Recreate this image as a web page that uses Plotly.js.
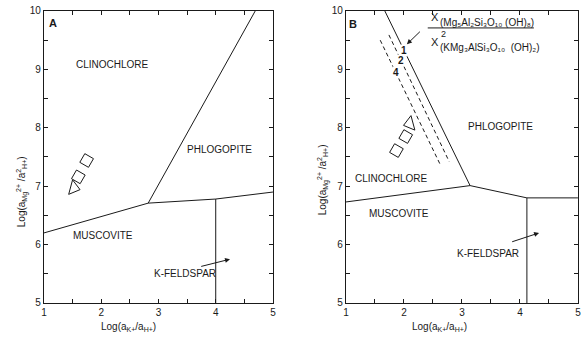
<!DOCTYPE html>
<html>
<head>
<meta charset="utf-8">
<script src="https://cdn.plot.ly/plotly-3.0.1.min.js"></script>
<style>html,body{margin:0;padding:0;background:#fff;}#chart{width:582px;height:337px;}</style>
</head>
<body>
<div id="chart"></div>
<script>
// ---------- Panel A boundaries ----------
const aMuscClinoX = [1, 2.82];
const aMuscClinoY = [6.2, 6.71];
const aClinoPhlogX = [2.82, 4.69];
const aClinoPhlogY = [6.71, 10];
const aPhlogMuscX = [2.82, 4, 5];
const aPhlogMuscY = [6.71, 6.78, 6.9];
const aKfsX = [4, 4];
const aKfsY = [6.78, 5];
// Panel A samples
const aSquareX = [1.745, 1.60];
const aSquareY = [7.44, 7.16];
const aTriX = [1.52];
const aTriY = [6.97];

// ---------- Panel B boundaries ----------
const bMuscClinoX = [1, 3.14];
const bMuscClinoY = [6.73, 7.01];
const bClinoPhlogX = [3.14, 1.67];
const bClinoPhlogY = [7.01, 10];
const bPhlogMuscX = [3.14, 4.12, 5];
const bPhlogMuscY = [7.01, 6.8, 6.8];
const bKfsX = [4.12, 4.12];
const bKfsY = [6.8, 5];
const bDash2X = [1.74, 2.78];
const bDash2Y = [9.59, 7.42];
const bDash4X = [1.59, 2.63];
const bDash4Y = [9.50, 7.36];
// Panel B samples
const bSquareX = [2.03, 1.87];
const bSquareY = [7.85, 7.61];
const bTriX = [2.10];
const bTriY = [8.07];

// ---------- Labels ----------
const aLabels = ["CLINOCHLORE", "PHLOGOPITE", "MUSCOVITE", "K-FELDSPAR"];
const aLabelX = [2.19, 4.07, 2.03, 3.46];
const aLabelY = [9.09, 7.63, 6.16, 5.5];
const bLabels = ["CLINOCHLORE", "PHLOGOPITE", "MUSCOVITE", "K-FELDSPAR"];
const bLabelX = [1.78, 3.67, 1.91, 3.45];
const bLabelY = [7.14, 8.03, 6.54, 5.85];
const ratioLabels = ["1", "2", "4"];
const ratioX = [2.0, 1.95, 1.87];
const ratioY = [9.32, 9.15, 8.94];
const xTickVals = [1, 1.5, 2, 2.5, 3, 3.5, 4, 4.5, 5];
const xTickText = ['1', '', '2', '', '3', '', '4', '', '5'];
const yTickVals = [5, 5.5, 6, 6.5, 7, 7.5, 8, 8.5, 9, 9.5, 10];
const yTickText = ['5', '', '6', '', '7', '', '8', '', '9', '', '10'];

const black = '#1a1a1a';
function line(x, y, xa, ya, dash) {
  return {x: x, y: y, xaxis: xa, yaxis: ya, mode: 'lines', type: 'scatter',
    line: {color: black, width: 1, dash: dash || 'solid'}, hoverinfo: 'skip', showlegend: false};
}
function pts(x, y, xa, ya, sym, ang, size) {
  return {x: x, y: y, xaxis: xa, yaxis: ya, mode: 'markers', type: 'scatter', showlegend: false,
    marker: {symbol: sym, size: size, angle: ang, color: black,
      line: {color: black, width: 1}}};
}

const data = [
  line(aMuscClinoX, aMuscClinoY, 'x', 'y'),
  line(aClinoPhlogX, aClinoPhlogY, 'x', 'y'),
  line(aPhlogMuscX, aPhlogMuscY, 'x', 'y'),
  line(aKfsX, aKfsY, 'x', 'y'),
  pts(aSquareX, aSquareY, 'x', 'y', 'square-open', 30, 10),
  pts(aTriX, aTriY, 'x', 'y', 'triangle-right-open', 15, 13),
  line(bMuscClinoX, bMuscClinoY, 'x2', 'y2'),
  line(bClinoPhlogX, bClinoPhlogY, 'x2', 'y2'),
  line(bPhlogMuscX, bPhlogMuscY, 'x2', 'y2'),
  line(bKfsX, bKfsY, 'x2', 'y2'),
  line(bDash2X, bDash2Y, 'x2', 'y2', '4px,3px'),
  line(bDash4X, bDash4Y, 'x2', 'y2', '4px,3px'),
  pts(bSquareX, bSquareY, 'x2', 'y2', 'square-open', 30, 10),
  pts(bTriX, bTriY, 'x2', 'y2', 'triangle-left-open', -15, 13)
];

const fam = 'Liberation Sans, Arial, sans-serif';
const font = {family: fam, size: 10, color: black};
const annotations = [];
function lab(text, x, y, xr, yr, extra) {
  annotations.push(Object.assign({text: text, x: x, y: y, xref: xr, yref: yr, showarrow: false,
    xanchor: 'center', yanchor: 'middle', font: font}, extra || {}));
}
aLabels.forEach((t, i) => lab(t, aLabelX[i], aLabelY[i], 'x', 'y'));
bLabels.forEach((t, i) => lab(t, bLabelX[i], bLabelY[i], 'x2', 'y2'));
ratioLabels.forEach((t, i) => lab('<b>' + t + '</b>', ratioX[i], ratioY[i], 'x2', 'y2',
  {bgcolor: 'white', borderpad: 0, font: {family: fam, size: 10, color: black}}));
lab('<b>A</b>', 1.15, 9.8, 'x', 'y', {font: {family: fam, size: 11, color: black}});
lab('<b>B</b>', 1.12, 9.78, 'x2', 'y2', {font: {family: fam, size: 11, color: black}});
// formula (numerator / denominator)
const sm = {family: fam, size: 10, color: black};
lab('X', 2.43, 9.9, 'x2', 'y2', {xanchor: 'left', font: {family: fam, size: 11, color: black}});
lab('(Mg₅Al₂Si₃O₁₀ (OH)₈)', 2.58, 9.8, 'x2', 'y2', {xanchor: 'left', font: sm});
lab('X', 2.43, 9.47, 'x2', 'y2', {xanchor: 'left', font: {family: fam, size: 11, color: black}});
lab('2', 2.6, 9.6, 'x2', 'y2', {xanchor: 'left', font: {family: fam, size: 9, color: black}});
lab('(KMg₃AlSi₃O₁₀  (OH)₂)', 2.58, 9.38, 'x2', 'y2', {xanchor: 'left', font: sm});
// arrows
function arrow(x, y, ax, ay, xr, yr) {
  annotations.push({x: x, y: y, ax: ax, ay: ay, xref: xr, yref: yr, axref: xr, ayref: yr,
    text: '', showarrow: true, arrowhead: 2, arrowsize: 1, arrowwidth: 1, arrowcolor: black, standoff: 0});
}
arrow(4.25, 5.75, 3.72, 5.62, 'x', 'y');
arrow(4.33, 6.2, 3.84, 6.04, 'x2', 'y2');
arrow(2.05, 9.43, 2.3, 9.67, 'x2', 'y2');
// axis titles
const titleX = 'Log(a<sub>K+</sub>/a<sub>H+</sub>)';
const titleY = 'Log(a<sub>Mg</sub><sup>2+</sup> /a<sup>2</sup><sub>H+</sub>)';
lab(titleX, 0.22, 0.03, 'paper', 'paper');
lab(titleX, 0.756, 0.03, 'paper', 'paper');
lab(titleY, 0.038, 0.43, 'paper', 'paper', {textangle: -90});
lab(titleY, 0.555, 0.465, 'paper', 'paper', {textangle: -90});

const shapes = [{type: 'line', xref: 'x2', yref: 'y2', x0: 2.41, x1: 4.24, y0: 9.71, y1: 9.71,
  line: {color: black, width: 1}}];

function xax(domain) {
  return {domain: domain, range: [1, 5], tickmode: 'array', tickvals: xTickVals, ticktext: xTickText,
    ticks: 'inside', ticklen: 4, tickwidth: 1,
    showline: true, mirror: 'ticks', linecolor: black, linewidth: 1.2, tickcolor: black,
    showgrid: false, zeroline: false, tickfont: font, fixedrange: true};
}
function yax(domain, anchor) {
  return {domain: domain, range: [5, 10], tickmode: 'array', tickvals: yTickVals, ticktext: yTickText,
    ticks: 'inside', ticklen: 4, tickwidth: 1, anchor: anchor,
    showline: true, mirror: 'ticks', linecolor: black, linewidth: 1.2, tickcolor: black,
    showgrid: false, zeroline: false, tickfont: font, fixedrange: true};
}
const yd = [0.1009, 0.9674];
const layout = {
  width: 582, height: 337, margin: {l: 0, r: 0, t: 0, b: 0},
  paper_bgcolor: 'white', plot_bgcolor: 'white', showlegend: false,
  xaxis: Object.assign(xax([0.0756, 0.469]), {anchor: 'y'}),
  yaxis: yax(yd, 'x'),
  xaxis2: Object.assign(xax([0.5945, 0.993]), {anchor: 'y2'}),
  yaxis2: yax(yd, 'x2'),
  annotations: annotations, shapes: shapes
};
Plotly.newPlot('chart', data, layout, {staticPlot: true, displayModeBar: false});
</script>
</body>
</html>
